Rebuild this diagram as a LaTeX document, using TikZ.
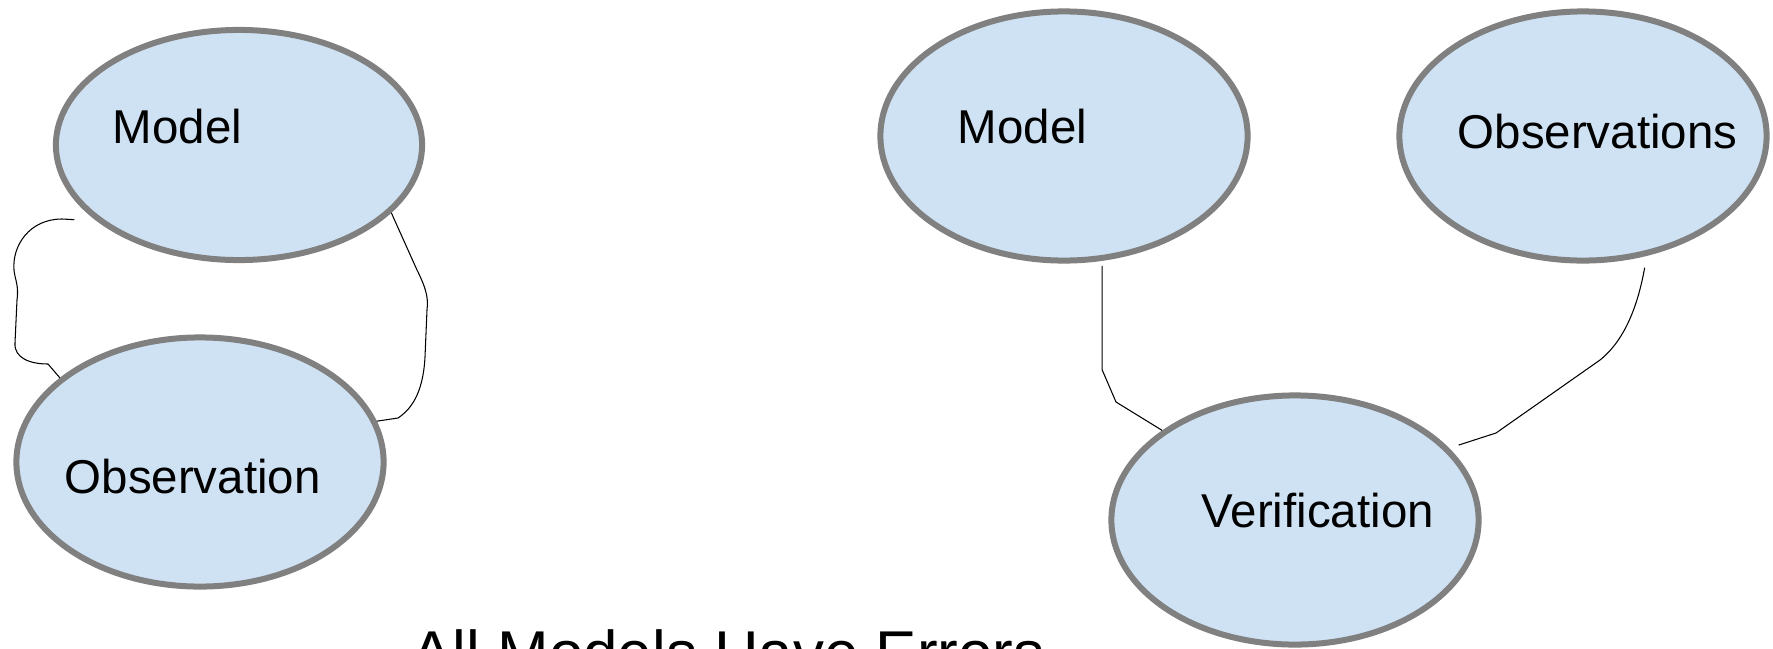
\documentclass[tikz,border=0pt]{standalone}
\usepackage{xcolor}
\usepackage{fontspec}
\setmainfont{Liberation Sans}
\usepackage{tikz}
\usetikzlibrary{shapes.geometric}

\definecolor{bubblefill}{HTML}{CFE2F3}
\definecolor{bubbleline}{HTML}{808080}

\begin{document}
\begin{tikzpicture}[
				x=0.01cm, y=-0.01cm,
				bubble/.style={ellipse, draw=bubbleline, fill=bubblefill, line width=0.06cm, inner sep=0pt, minimum width=3.67cm, minimum height=2.49cm},
				flatbubble/.style={bubble, minimum height=2.30cm, minimum width=3.66cm},
				bubbletext/.style={font=\fontsize{13.5pt}{16pt}\selectfont, anchor=base west, inner sep=0pt},
				headline/.style={font=\fontsize{17.6pt}{21pt}\selectfont, anchor=base west, inner sep=0pt},
				wire/.style={draw=black, line width=0.3pt},
				]
				\useasboundingbox (0,0) rectangle (1773,648);
				\clip (0,0) rectangle (1773,648);
				%Nodes
				\node[flatbubble](model1) at (239,145) {};
				\node[bubble](obs1) at (200,462) {};
				\node[bubble](model2) at (1064,136) {};
				\node[bubble](obs2) at (1583,136) {};
				\node[bubble](verif) at (1295,520) {};
				
				\node[bubbletext](model1txt) at (112,143) {Model};
				\node[bubbletext](obs1txt) at (64,493) {Observation};
				\node[bubbletext](model2txt) at (957,143) {Model};
				\node[bubbletext](obs2txt) at (1457,148) {Observations};
				\node[bubbletext](veriftxt) at (1201,527) {Verification};
				
				\node[headline](title) at (411,674) {All Models Have Errors};
				
				%Lines
				
				\draw[wire, shorten <=0.22cm] (model1.208) -- (62,219) .. controls (30,219) and (12,245) .. (14,270) .. controls (15,280) and (19,285) .. (17,300) -- (15,343) .. controls (14,358) and (30,364) .. (48,364) -- (obs1.149);
				\draw[wire] (model1.336) -- (417,270) .. controls (428,292) and (428,300) .. (427,310) -- (425,357) .. controls (423,395) and (410,410) .. (398,418) -- (obs1.13);
				\draw[wire, shorten <=0.05cm] (model2.287) -- ++(0,109) -- (1116,402) -- (verif.146);
				\draw[wire, shorten <=0.12cm, shorten >=0.1cm] (obs2.298) .. controls (1638,305) and (1625,340) .. (1600,360) -- (1496,433) -- (verif.25);
				
			\end{tikzpicture}
\end{document}
